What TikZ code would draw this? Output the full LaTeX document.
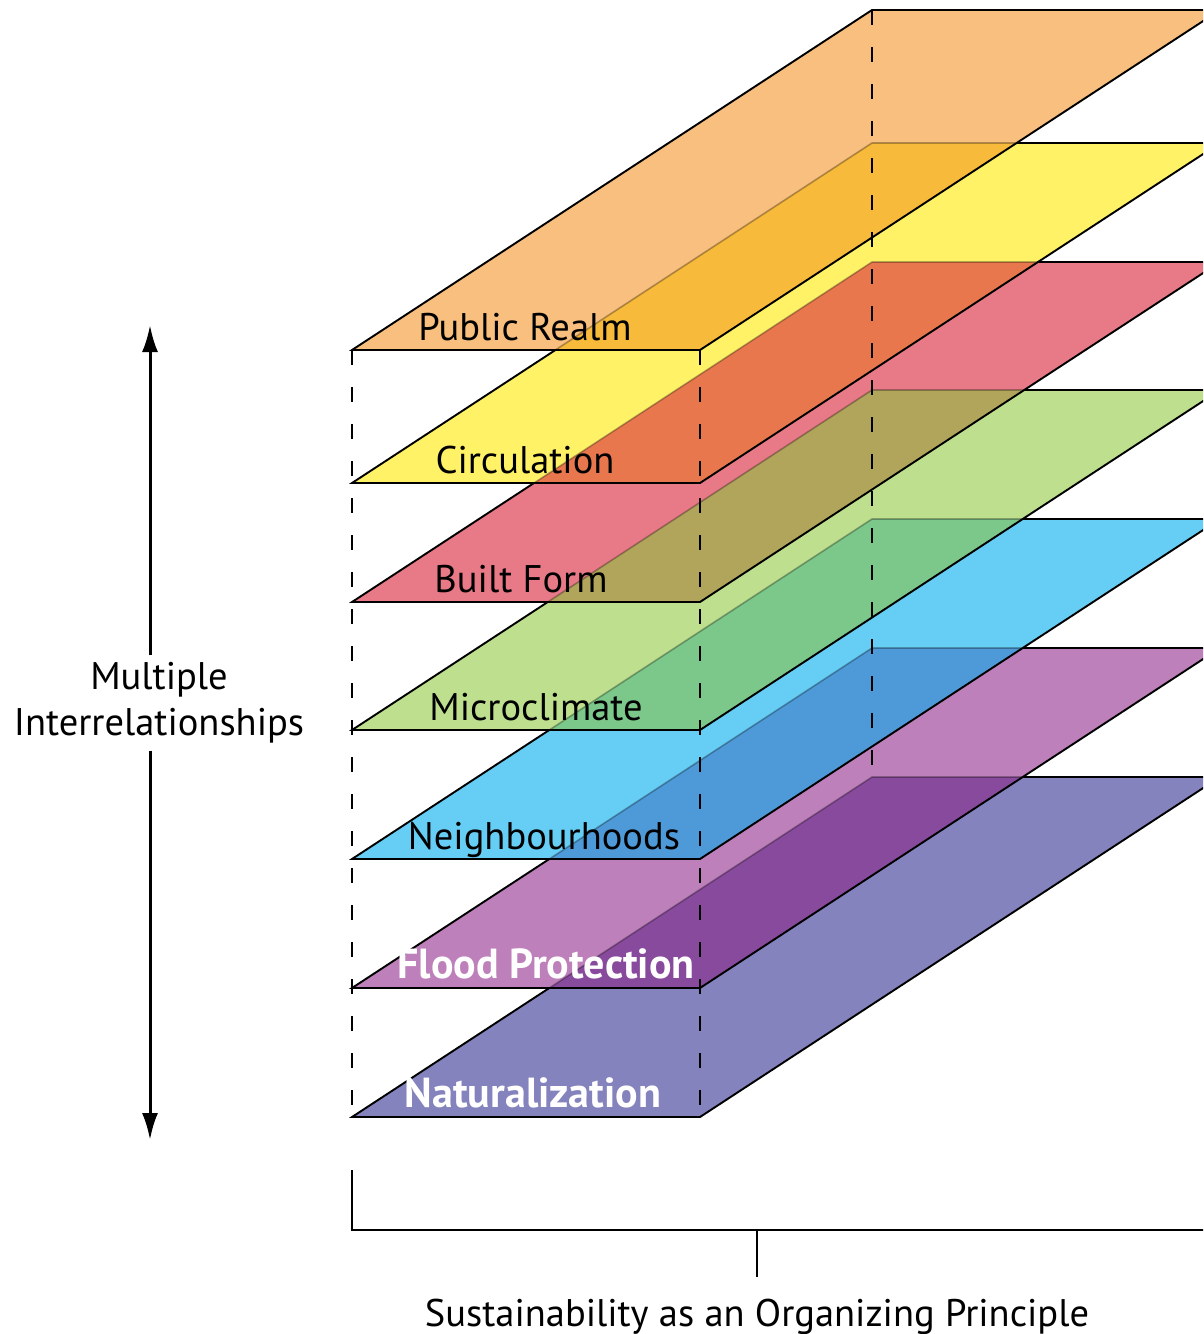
\documentclass[tikz,border=0pt]{standalone}
\usepackage{fontspec}
\setmainfont{PT Sans}
\definecolor{realm}{HTML}{F8BF7E}
\definecolor{realmmix}{HTML}{F8BA3A}
\definecolor{circ}{HTML}{FFF267}
\definecolor{circmix}{HTML}{E8774E}
\definecolor{built}{HTML}{E87A87}
\definecolor{builtmix}{HTML}{B1A55C}
\definecolor{micro}{HTML}{BDDF8E}
\definecolor{micromix}{HTML}{7CC78A}
\definecolor{neigh}{HTML}{66CEF5}
\definecolor{neighmix}{HTML}{4E99D8}
\definecolor{flood}{HTML}{BD80BA}
\definecolor{floodmix}{HTML}{884A9D}
\definecolor{natural}{HTML}{8483BD}
\usetikzlibrary{calc, arrows.meta}

\tikzset{
  layer/.style={line width=1.9pt, line join=miter},
  ghost/.style={line width=1.6pt, draw opacity=0.3},
  guide/.style={line width=1.5pt, dash pattern=on 15pt off 22pt},
  bracket/.style={line width=1.5pt},
  darklabel/.style={font=\fontsize{38.5}{46}\selectfont, text=black, inner sep=0pt},
  lightlabel/.style={font=\fontsize{42}{48}\selectfont\bfseries, text=white, inner sep=0pt}
}

\begin{document}
\begin{tikzpicture}[x=1pt, y=-1pt]
  \useasboundingbox (0,0) rectangle (1203,1334);
  \clip (0,0) rectangle (1203,1334);

  % layers, bottom first
  \foreach \yf/\ylow/\col/\mix/\lab/\txt/\tsty/\tx in {
    1117/0/natural/natural/natural/Naturalization/lightlabel/533,
    988/1117/flood/floodmix/flood/Flood Protection/lightlabel/546,
    859/988/neigh/neighmix/neigh/Neighbourhoods/darklabel/544,
    730/859/micro/micromix/micro/Microclimate/darklabel/536,
    602/730/built/builtmix/built/Built Form/darklabel/521,
    483/602/circ/circmix/circ/Circulation/darklabel/525,
    350/483/realm/realmmix/realm/Public Realm/darklabel/525} {
    \fill[\col] (352,\yf) -- (700,\yf) -- (1220,\yf-340) -- (872,\yf-340) -- cycle;
    \ifnum\ylow>0
      \begin{scope}
        \clip (352,\yf) -- (700,\yf) -- (1220,\yf-340) -- (872,\yf-340) -- cycle;
        \begin{scope}
          \clip (352,\ylow) -- (700,\ylow) -- (1220,\ylow-340) -- (872,\ylow-340) -- cycle;
          \fill[\mix] (352,\ylow) -- (700,\ylow) -- (1220,\ylow-340) -- (872,\ylow-340) -- cycle;
        \end{scope}
        \draw[ghost] (352,\ylow) -- (700,\ylow) -- (1220,\ylow-340) -- (872,\ylow-340) -- cycle;
      \end{scope}
    \fi
    \draw[layer] (352,\yf) -- (700,\yf) -- (1220,\yf-340) -- (872,\yf-340) -- cycle;
    \node[\tsty, anchor=base] (\lab) at (\tx,\yf-10) {\txt};
  }

  % hidden edges of the stack
  \draw[guide] (352,350) -- (352,1117);
  \draw[guide] (700,350) -- (700,1117);
  \draw[guide] (872,10) -- (872,776);

  % left arrow
  \coordinate (top) at (150,325);
  \coordinate (bot) at (150,1140);
  \node[darklabel, align=center, inner sep=7pt] (multi) at (159,703) {Multiple\\Interrelationships};
  \draw[line width=3pt, -{Latex[length=27pt, width=16pt]}] (top |- multi.north) -- (top);
  \draw[line width=3pt, -{Latex[length=27pt, width=16pt]}] (bot |- multi.south) -- (bot);

  % bottom bracket
  \coordinate (corner) at (352,1230);
  \coordinate (tick) at (757,1230);
  \draw[bracket] (352,1170) -- (corner) -- (1220,1230);
  \node[darklabel, anchor=base] (sustain) at (757,1326) {Sustainability as an Organizing Principle};
  \draw[bracket] (tick) -- ++(0,47);
\end{tikzpicture}
\end{document}
